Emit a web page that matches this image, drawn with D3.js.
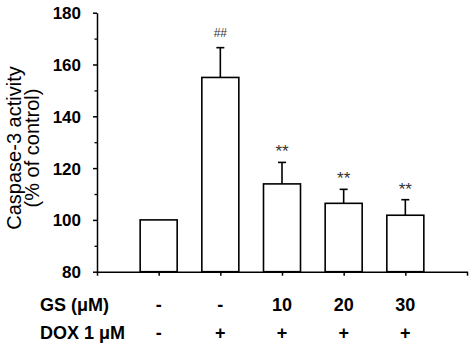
<!DOCTYPE html>
<html>
<head>
<meta charset="utf-8">
<script src="https://cdn.jsdelivr.net/npm/d3@7"></script>
<style>
  html, body { margin: 0; padding: 0; background: #fff; }
  svg { display: block; }
  text { font-family: "Liberation Sans", Arial, sans-serif; }
</style>
</head>
<body>
<svg id="chart" width="474" height="346"></svg>
<script>
// ---- data ----
const groups = [1, 2, 3, 4, 5];
const gsLabels = ["-", "-", "10", "20", "30"];
const doxLabels = ["-", "+", "+", "+", "+"];
const means = [100, 155, 113.9, 106.4, 101.8];
const errors = [0, 11.5, 8.3, 5.4, 6.0];
const sigLabels = ["", "##", "**", "**", "**"];
const yTicks = [80, 100, 120, 140, 160, 180];
const yMinorTicks = [90, 110, 130, 150, 170];
const xTicks = [0, 1, 2, 3, 4, 5, 6];

const svg = d3.select("#chart");
const x = d3.scaleLinear().domain([0, 6]).range([97, 467]);
const y = d3.scaleLinear().domain([80, 180]).range([271.7, 12.7]);
const barW = x(0.6) - x(0);

// bars
svg.append("g").selectAll("rect").data(groups).join("rect")
  .attr("x", (d) => x(d) - barW / 2)
  .attr("y", (d, i) => y(means[i]))
  .attr("width", barW)
  .attr("height", (d, i) => y(80) - y(means[i]))
  .attr("fill", "#fff").attr("stroke", "#000").attr("stroke-width", 1.6);

// error bars
const eg = svg.append("g").attr("stroke", "#000").attr("stroke-width", 1.6);
groups.forEach((d, i) => {
  if (!errors[i]) return;
  eg.append("line").attr("x1", x(d)).attr("x2", x(d))
    .attr("y1", y(means[i])).attr("y2", y(means[i] + errors[i]));
  eg.append("line").attr("x1", x(d) - 4).attr("x2", x(d) + 4)
    .attr("y1", y(means[i] + errors[i])).attr("y2", y(means[i] + errors[i]));
});

// significance labels
svg.append("g").selectAll("text").data(groups).join("text")
  .attr("x", (d) => x(d))
  .attr("y", (d, i) => y(means[i] + errors[i]) - (sigLabels[i] === "##" ? 10.5 : 5))
  .attr("text-anchor", "middle")
  .attr("font-size", (d, i) => sigLabels[i] === "##" ? 12 : 17)
  .attr("fill", "#333")
  .text((d, i) => sigLabels[i]);

// y axis
const yAxis = d3.axisLeft(y).tickValues(yTicks).tickSize(4).tickSizeOuter(0).tickPadding(12);
const yg = svg.append("g").attr("transform", `translate(${x(0)},0)`).call(yAxis);
yg.select(".domain").attr("stroke-width", 1.5);
yg.selectAll(".tick line").attr("stroke-width", 1.5);
yg.selectAll(".tick text").attr("font-size", 17).attr("font-weight", "bold")
  .attr("font-family", "Liberation Sans, Arial, sans-serif").attr("dy", "0.35em");
const yMinor = d3.axisLeft(y).tickValues(yMinorTicks).tickSize(2.5).tickFormat("");
const ymg = svg.append("g").attr("transform", `translate(${x(0)},0)`).call(yMinor);
ymg.select(".domain").remove();
ymg.selectAll(".tick line").attr("stroke-width", 1.3);

// x axis
const xAxis = d3.axisBottom(x).tickValues(xTicks).tickSize(4).tickSizeOuter(0).tickFormat("");
const xg = svg.append("g").attr("transform", `translate(0,${y(80)})`).call(xAxis);
xg.select(".domain").attr("stroke-width", 1.5);
xg.selectAll(".tick line").attr("stroke-width", 1.5);

// y label
const yl = svg.append("text")
  .attr("transform", "translate(0,148) rotate(-90)")
  .attr("text-anchor", "middle")
  .attr("font-size", 20);
yl.append("tspan").attr("x", 0).attr("y", 21).text("Caspase-3 activity");
yl.append("tspan").attr("x", 0).attr("y", 39).text("(% of control)");

// bottom treatment table
const rowGS = 311, rowDOX = 339;
svg.append("text").attr("x", 40).attr("y", rowGS).attr("font-size", 18)
  .attr("font-weight", "bold").text("GS (\u03BCM)");
svg.append("text").attr("x", 40).attr("y", rowDOX).attr("font-size", 18)
  .attr("font-weight", "bold").text("DOX 1 \u03BCM");
svg.append("g").selectAll("text").data(groups).join("text")
  .attr("x", (d) => x(d)).attr("y", rowGS).attr("text-anchor", "middle")
  .attr("font-size", 18).attr("font-weight", "bold")
  .text((d, i) => gsLabels[i]);
svg.append("g").selectAll("text").data(groups).join("text")
  .attr("x", (d) => x(d)).attr("y", rowDOX).attr("text-anchor", "middle")
  .attr("font-size", 18).attr("font-weight", "bold")
  .text((d, i) => doxLabels[i]);
</script>
</body>
</html>
